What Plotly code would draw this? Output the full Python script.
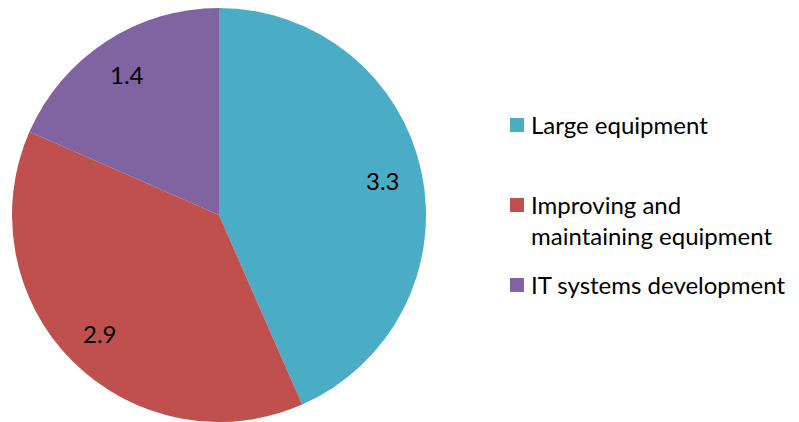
import math
import plotly.graph_objects as go

categories = ["Large equipment", "Improving and<br>maintaining equipment", "IT systems development"]
values = [3.3, 2.9, 1.4]
value_labels = ["3.3", "2.9", "1.4"]
colors = ["#4BACC6", "#C0504D", "#8064A2"]

W, H = 791, 414           # page body has an 8px margin inside the 799x422 window
FONT = "Lato"
FS = 24

# pie geometry (pixels inside figure)
cx, cy, R = 211.0, 207.0, 207.0
dom_x = [(cx - R) / W, (cx + R) / W]

fig = go.Figure(go.Pie(
    labels=categories,
    values=values,
    sort=False,
    direction="clockwise",
    rotation=0,
    marker=dict(colors=colors, line=dict(width=0)),
    textinfo="none",
    hoverinfo="label+value",
    showlegend=False,
    domain=dict(x=dom_x, y=[0, 1]),
))

annotations = []
shapes = []

# data labels at the middle angle of each slice
total = sum(values)
start = 0.0
label_r = 0.81 * R
for v, txt in zip(values, value_labels):
    mid = (start + v / 2) / total * 2 * math.pi
    start += v
    px = cx + label_r * math.sin(mid)
    py = cy - label_r * math.cos(mid)
    annotations.append(dict(
        x=px / W, y=1 - py / H, xref="paper", yref="paper",
        text=txt, showarrow=False, xanchor="center", yanchor="middle",
        font=dict(family=FONT, size=FS, color="#000000"),
    ))

# legend (drawn manually to reproduce the spacing)
legend_centers = [117, 197, 277]   # pixel y of each swatch centre
sw_x0, sw_size, text_x = 502, 14, 521
line_h = 32
for name, col, yc in zip(categories, colors, legend_centers):
    nlines = name.count("<br>") + 1
    shapes.append(dict(
        type="rect", xref="paper", yref="paper",
        x0=sw_x0 / W, x1=(sw_x0 + sw_size) / W,
        y0=1 - (yc + sw_size / 2) / H, y1=1 - (yc - sw_size / 2) / H,
        fillcolor=col, line=dict(width=0),
    ))
    tc = yc + (nlines - 1) * line_h / 2 - 1
    annotations.append(dict(
        x=text_x / W, y=1 - tc / H, xref="paper", yref="paper",
        text=name, showarrow=False, xanchor="left", yanchor="middle",
        align="left",
        font=dict(family=FONT, size=FS, color="#000000"),
    ))

fig.update_layout(
    width=W, height=H,
    margin=dict(l=0, r=0, t=0, b=0),
    paper_bgcolor="white",
    plot_bgcolor="white",
    showlegend=False,
    annotations=annotations,
    shapes=shapes,
)

fig.write_html("out.html")
